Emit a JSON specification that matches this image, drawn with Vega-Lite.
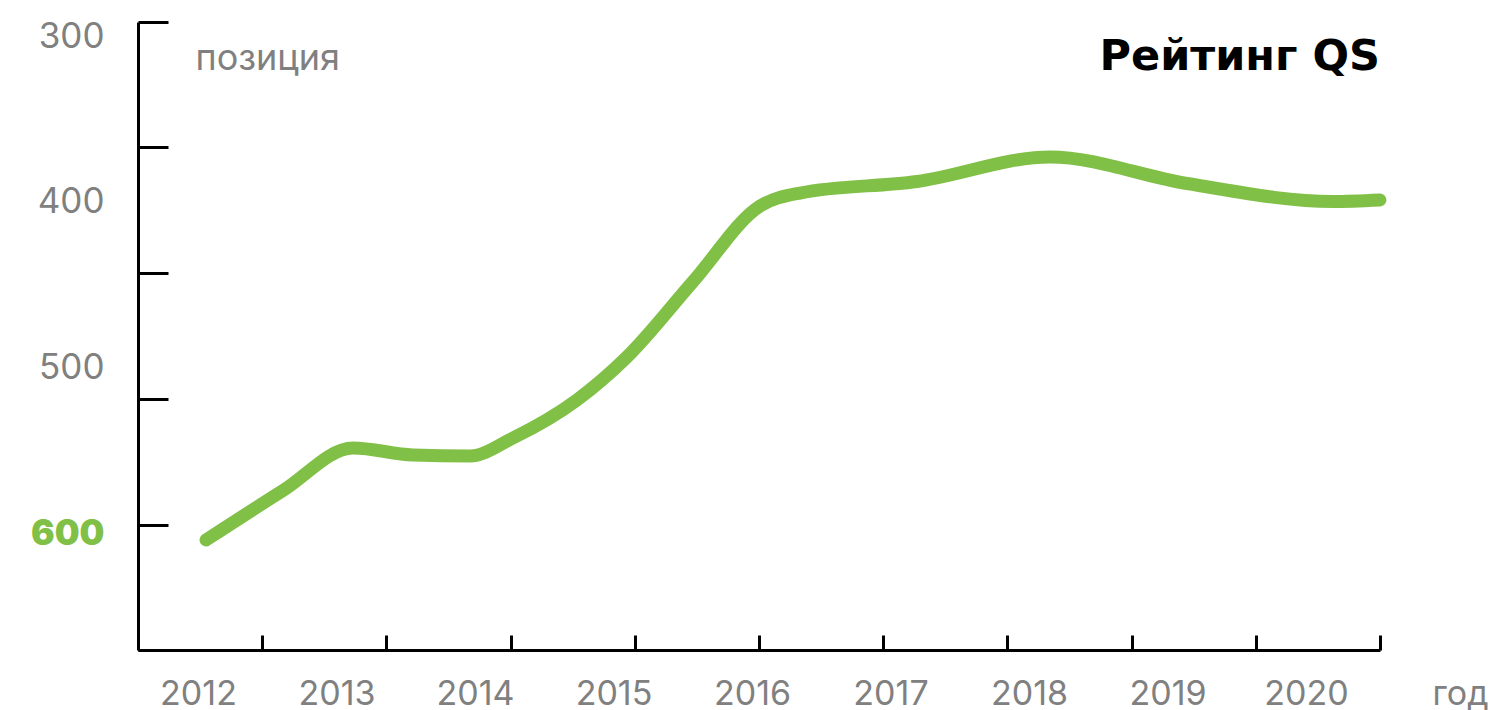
{
  "$schema": "https://vega.github.io/schema/vega-lite/v6.json",
  "width": 1242,
  "height": 628,
  "autosize": {"type": "none"},
  "padding": {"left": 138, "top": 22, "right": 117, "bottom": 60},
  "background": "white",
  "config": {"view": {"stroke": null}, "font": "Inter"},
  "title": {"text": "Рейтинг QS", "anchor": "end", "frame": "group", "offset": -108, "fontSize": 43, "fontWeight": "bold", "font": "DejaVu Sans", "color": "#000000", "baseline": "alphabetic"},
  "data": {"values": [
    {"year": 2012.058, "position": 604.04},
    {"year": 2012.614, "position": 574.2},
    {"year": 2013.119, "position": 548.5},
    {"year": 2013.552, "position": 552.76},
    {"year": 2013.964, "position": 553.36},
    {"year": 2014.274, "position": 542.50},
    {"year": 2014.736, "position": 519.58},
    {"year": 2015.097, "position": 493.64},
    {"year": 2015.574, "position": 448.16},
    {"year": 2016.058, "position": 402.55},
    {"year": 2016.347, "position": 394.71},
    {"year": 2017.191, "position": 387.77},
    {"year": 2018.152, "position": 372.99},
    {"year": 2019.141, "position": 388.98},
    {"year": 2020.195, "position": 399.84},
    {"year": 2020.534, "position": 398.93}
  ]},
  "encoding": {
    "y": {
      "field": "position", "type": "quantitative",
      "scale": {"domain": [291.55, 670.4], "reverse": true, "nice": false, "zero": false},
      "axis": {
        "values": [291.56, 300, 367.1, 400, 443.1, 500, 518.8, 595.0, 600, 670.4],
        "format": "d",
        "labelExpr": "datum.value % 100 == 0 ? datum.label : ''",
        "tickOpacity": {"condition": {"test": "datum.value % 100 != 0", "value": 1}, "value": 0},
        "tickSize": -30, "tickWidth": 3, "tickColor": "#000000",
        "domainColor": "#000000", "domainWidth": 3,
        "labelPadding": 64, "labelBaseline": "middle", "labelAlign": "right",
        "labelFontSize": 35, "labelFont": "Inter",
        "labelColor": {"condition": {"test": "datum.value == 600", "value": "#80C046"}, "value": "#808080"},
        "labelFontWeight": {"condition": {"test": "datum.value == 600", "value": 900}, "value": "normal"},
        "labelOverlap": false, "labelFlush": false, "grid": false,
        "title": "позиция", "titleAngle": 0, "titleX": 57, "titleY": 47, "titleAlign": "left", "titleBaseline": "alphabetic",
        "titleFontSize": 36, "titleFontWeight": "normal", "titleColor": "#808080", "titleFont": "Inter"
      }
    }
  },
  "layer": [
    {
      "mark": {"type": "line", "color": "#80C046", "strokeWidth": 13, "strokeCap": "round", "strokeJoin": "round", "interpolate": "monotone"},
      "encoding": {
        "x": {
          "field": "year", "type": "quantitative",
          "scale": {"domain": [2011.5668, 2020.5343], "nice": false, "zero": false},
          "axis": {
            "orient": "bottom",
            "values": [2012, 2013, 2014, 2015, 2016, 2017, 2018, 2019, 2020],
            "format": "d",
            "domain": false,
            "tickSize": -15, "tickOpacity": 0,
            "labelPadding": 69, "labelBaseline": "alphabetic", "labelAlign": "center",
            "labelFontSize": 34, "labelColor": "#808080", "labelFont": "Inter",
            "labelOverlap": false, "labelFlush": false, "grid": false,
            "title": null
          }
        }
      }
    },
    {
      "mark": {"type": "line", "opacity": 0},
      "encoding": {
        "x": {
          "field": "year", "type": "quantitative",
          "axis": {
            "orient": "bottom",
            "values": [2012.4636, 2013.3603, 2014.2571, 2015.1538, 2016.0506, 2016.9473, 2017.8441, 2018.7408, 2019.6376, 2020.534],
            "labels": false,
            "tickSize": -15, "tickWidth": 3, "tickColor": "#000000",
            "domainColor": "#000000", "domainWidth": 3, "grid": false,
            "title": "год", "titleX": 1322, "titleY": 54, "titleBaseline": "alphabetic", "titleAlign": "center",
            "titleFontSize": 34, "titleFontWeight": "normal", "titleColor": "#808080", "titleFont": "Inter"
          }
        }
      }
    }
  ],
  "resolve": {"axis": {"x": "independent"}}
}
